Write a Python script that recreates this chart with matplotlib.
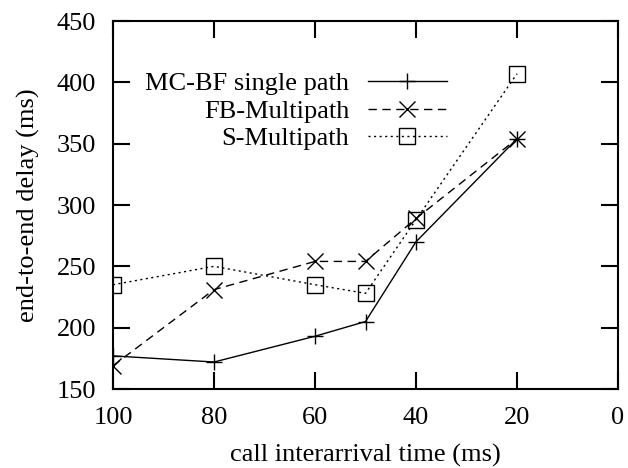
import matplotlib
matplotlib.use("Agg")
import matplotlib.pyplot as plt

x = [100, 80, 60, 50, 40, 20]
mcbf = [177, 172, 193, 205, 270, 354]
fb = [169, 231, 254, 254, 289, 354]
sm = [235, 250, 235, 228, 288, 407]
labels = ["MC-BF single path", "FB-Multipath", "S-Multipath"]
xticks = [100, 80, 60, 40, 20, 0]
yticks = [150, 200, 250, 300, 350, 400, 450]

plt.rcParams['font.family'] = ['Liberation Serif', 'DejaVu Serif']
plt.rcParams['font.size'] = 19

fig = plt.figure(figsize=(6.28, 4.68), dpi=100)
L, R, T, B = 113, 618, 21, 389
ax = fig.add_axes([L/628, 1-B/468, (R-L)/628, (B-T)/468])

ax.plot(x, mcbf, color='black', lw=1.0, ls='-', marker='+', ms=12, mew=1.0, label=labels[0])
ax.plot(x, fb, color='black', lw=1.0, ls=(0, (6, 4)), marker='x', ms=11, mew=1.0, label=labels[1])
ax.plot(x, sm, color='black', lw=1.0, ls=(0, (1.5, 2.5)), marker='s', ms=12, mew=1.0,
        mfc='none', label=labels[2])

ax.set_xlim(100, 0)
ax.set_ylim(150, 450)
ax.set_xticks(xticks)
ax.set_yticks(yticks)
ax.tick_params(axis='y', direction='in', length=12, width=1.5, right=True, pad=12)
ax.tick_params(axis='x', direction='in', length=12, width=1.5, top=True, pad=13)
for s in ax.spines.values():
    s.set_linewidth(1.5)
ax.set_xlabel("call interarrival time (ms)", labelpad=10.5)
ax.set_ylabel("end-to-end delay (ms)", labelpad=12)

ax_x = (447 - L) / (R - L)
ax_y = (B - 72) / (B - T)
leg = ax.legend(loc='upper right', bbox_to_anchor=(ax_x, ax_y), frameon=False, markerfirst=False,
                handlelength=3.0, handletextpad=0.7, labelspacing=0.15, borderaxespad=0,
                borderpad=0)
for t in leg.get_texts():
    t.set_ha('right')
leg._legend_box.align = 'right'

fig.savefig("out.png", dpi=100)
